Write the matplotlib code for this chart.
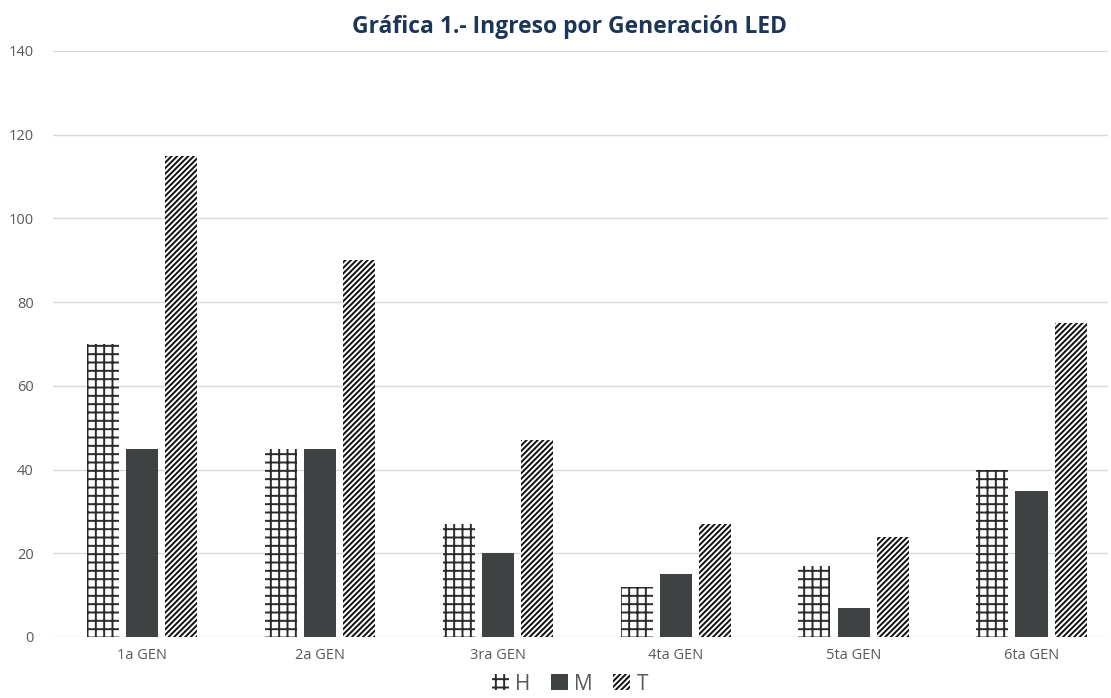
import matplotlib.pyplot as plt
import numpy as np

categories = ['1a GEN', '2a GEN', '3ra GEN', '4ta GEN', '5ta GEN', '6ta GEN']
h_vals = [70, 45, 27, 12, 17, 40]
m_vals = [45, 45, 20, 15, 7, 35]
t_vals = [115, 90, 47, 27, 24, 75]

plt.rcParams['font.family'] = ['Open Sans', 'DejaVu Sans']
plt.rcParams['hatch.linewidth'] = 1.4

fig = plt.figure(figsize=(11.11, 6.98), dpi=100)
ax = fig.add_axes([53 / 1111, 61 / 698, (1108 - 53) / 1111, (637 - 51) / 698])

x = np.arange(len(categories))
w = 0.18
off = 0.22
ax.bar(x - off, h_vals, w, facecolor='white', edgecolor='#2a2a2a', hatch='++', linewidth=0, label='H', zorder=3)
ax.bar(x, m_vals, w, color='#3e4243', edgecolor='#3e4243', linewidth=0, label='M', zorder=3)
ax.bar(x + off, t_vals, w, facecolor='white', edgecolor='#111111', hatch='//////', linewidth=0, label='T', zorder=3)

ax.set_xlim(-0.5, 5.43)
ax.set_ylim(0, 140)
ax.set_yticks(range(0, 141, 20))
ax.set_xticks(x)
ax.set_xticklabels(categories)
ax.grid(axis='y', color='#d9d9d9', linewidth=1, zorder=0)
for s in ax.spines.values():
    s.set_visible(False)
ax.tick_params(axis='both', length=0, labelsize=10.5, colors='#595959')
ax.tick_params(axis='y', pad=14)
ax.tick_params(axis='x', pad=8)

fig.text(0.513, 1 - 27 / 698, 'Gráfica 1.- Ingreso por Generación LED', fontsize=16.5,
         fontweight='bold', color='#1c3658', ha='center', va='center')

fig.legend(*ax.get_legend_handles_labels(), loc='center', bbox_to_anchor=(0.513, 14 / 698),
           ncol=3, frameon=False, fontsize=15, handlelength=0.8, handleheight=0.8,
           handletextpad=0.3, columnspacing=1.0, labelcolor='#595959', borderpad=0)

plt.savefig('out.png', dpi=100)
